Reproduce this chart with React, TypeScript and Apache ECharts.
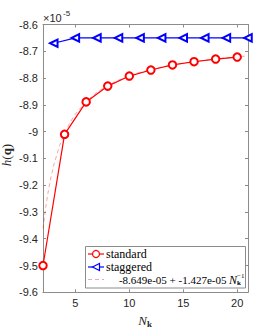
import React, { useEffect, useRef } from "react";
import * as echarts from "echarts";

// values in units of 1e-5
const STD_X = [2, 4, 6, 8, 10, 12, 14, 16, 18, 20];
const STD_Y = [-9.5, -9.01, -8.889, -8.83, -8.7925, -8.77, -8.751, -8.739, -8.729, -8.7215];
const STG_X = [3, 5, 7, 9, 11, 13, 15, 17, 19, 21];
const STG_Y = [-8.67, -8.65, -8.65, -8.65, -8.65, -8.65, -8.65, -8.65, -8.65, -8.65];
const FIT_A = -8.649;
const FIT_B = -1.427;
const FIT_X = [2, 2.25, 2.5, 2.75, 3, 3.5, 4, 4.5, 5, 6, 7, 8, 9, 10, 11, 12, 14, 16, 18, 21];
const X_TICKS = [5, 10, 15, 20];
const X_MIN = 2;
const X_MAX = 21;
const Y_MIN = -9.6;
const Y_MAX = -8.6;
const Y_STEP = 0.1;
const LEGEND_LABELS = ["standard", "staggered", "-8.649e-05 + -1.427e-05"];

const AXIS_COLOR = "#8c8c8c";
const TEXT_COLOR = "#262626";
const SANS = "'Liberation Sans', Arial, sans-serif";
const SERIF = "'Liberation Serif', 'Times New Roman', serif";

export default function App() {
  const ref = useRef<HTMLDivElement>(null);
  useEffect(() => {
    if (!ref.current) return;
    const chart = echarts.init(ref.current, undefined, { renderer: "svg" });
    const fitData = FIT_X.map((x) => [x, FIT_A + FIT_B / x]);
    const r1 = 254, r2 = 267, r3 = 279.5;
    const tickFmt = (v: number) => String(Math.round(v * 10) / 10);
    chart.setOption({
      animation: false,
      grid: { left: 43, right: 26, top: 24.5, bottom: 36.7, containLabel: false, outerBoundsMode: "none" },
      xAxis: [
        {
          type: "value", min: X_MIN, max: X_MAX, position: "bottom",
          axisLine: { show: true, lineStyle: { color: AXIS_COLOR, width: 1 } },
          axisTick: { show: true, inside: true, length: 3, customValues: X_TICKS, lineStyle: { color: AXIS_COLOR } },
          axisLabel: { customValues: X_TICKS, color: TEXT_COLOR, fontFamily: SANS, fontSize: 11, margin: 5 },
          splitLine: { show: false },
        },
        {
          type: "value", min: X_MIN, max: X_MAX, position: "top",
          axisLine: { show: true, onZero: false, lineStyle: { color: AXIS_COLOR, width: 1 } },
          axisTick: { show: true, inside: true, length: 3, customValues: X_TICKS, lineStyle: { color: AXIS_COLOR } },
          axisLabel: { show: false },
          splitLine: { show: false },
        },
      ],
      yAxis: [
        {
          type: "value", min: Y_MIN, max: Y_MAX, interval: Y_STEP, position: "left",
          axisLine: { show: true, onZero: false, lineStyle: { color: AXIS_COLOR, width: 1 } },
          axisTick: { show: true, inside: true, length: 3, lineStyle: { color: AXIS_COLOR } },
          axisLabel: { color: TEXT_COLOR, fontFamily: SANS, fontSize: 11, margin: 5, formatter: tickFmt },
          splitLine: { show: false },
        },
        {
          type: "value", min: Y_MIN, max: Y_MAX, interval: Y_STEP, position: "right",
          axisLine: { show: true, onZero: false, lineStyle: { color: AXIS_COLOR, width: 1 } },
          axisTick: { show: true, inside: true, length: 3, lineStyle: { color: AXIS_COLOR } },
          axisLabel: { show: false },
          splitLine: { show: false },
        },
      ],
      series: [
        {
          type: "line", name: "fit", data: fitData, symbol: "none", smooth: false,
          lineStyle: { color: "rgba(255,0,0,0.45)", width: 0.8, type: [4, 3] }, z: 1,
        },
        {
          type: "line", name: "standard", data: STD_X.map((x, i) => [x, STD_Y[i]]),
          symbol: "emptyCircle", symbolSize: 7.5,
          lineStyle: { color: "#ff0000", width: 1.2 },
          itemStyle: { color: "#ff0000", borderColor: "#ff0000", borderWidth: 1.2 }, z: 3,
        },
        {
          type: "line", name: "staggered", data: STG_X.map((x, i) => [x, STG_Y[i]]),
          symbol: "emptyTriangle", symbolSize: 7.5, symbolRotate: 90,
          lineStyle: { color: "#0000ff", width: 1.2 },
          itemStyle: { color: "#0000ff", borderColor: "#0000ff", borderWidth: 1.2 }, z: 3,
        },
      ],
      graphic: [
        { type: "text", x: 43, y: 17.5, z: 100, style: { text: "×10", fill: TEXT_COLOR, font: `11px ${SANS}`, verticalAlign: "middle", textAlign: "left" } },
        { type: "text", x: 63, y: 13.5, z: 100, style: { text: "-5", fill: TEXT_COLOR, font: `8px ${SANS}`, verticalAlign: "middle", textAlign: "left" } },
        {
          type: "text", x: 6, y: 155, rotation: Math.PI / 2, z: 100,
          style: {
            text: "{i|h}{n|(}{b|q}{n|)}", textAlign: "center", verticalAlign: "middle", fill: TEXT_COLOR,
            rich: {
              i: { fontFamily: SERIF, fontStyle: "italic", fontSize: 13, fill: TEXT_COLOR },
              n: { fontFamily: SERIF, fontSize: 13, fill: TEXT_COLOR },
              b: { fontFamily: SERIF, fontWeight: "bold", fontSize: 13, fill: TEXT_COLOR },
            },
          },
        },
        { type: "text", x: 147, y: 320, z: 100, style: { text: "N", fill: TEXT_COLOR, font: `italic 13px ${SERIF}`, textAlign: "right", verticalAlign: "middle" } },
        { type: "text", x: 147, y: 323.5, z: 100, style: { text: "k", fill: TEXT_COLOR, font: `bold 9px ${SERIF}`, textAlign: "left", verticalAlign: "middle" } },
        // legend
        { type: "rect", z: 100, shape: { x: 85.5, y: 246.5, width: 160, height: 41.5 }, style: { fill: "#ffffff", stroke: AXIS_COLOR, lineWidth: 1 } },
        { type: "line", z: 101, shape: { x1: 88, y1: r1, x2: 104, y2: r1 }, style: { stroke: "#ff0000", lineWidth: 1.2 } },
        { type: "circle", z: 102, shape: { cx: 96, cy: r1, r: 3.5 }, style: { fill: "#ffffff", stroke: "#ff0000", lineWidth: 1.2 } },
        { type: "text", z: 101, x: 106, y: r1, style: { text: LEGEND_LABELS[0], fill: "#000", font: `12px ${SERIF}`, verticalAlign: "middle" } },
        { type: "line", z: 101, shape: { x1: 88, y1: r2, x2: 104, y2: r2 }, style: { stroke: "#0000ff", lineWidth: 1.2 } },
        { type: "polygon", z: 102, shape: { points: [[92.5, r2], [99.5, r2 - 3.6], [99.5, r2 + 3.6]] }, style: { fill: "#ffffff", stroke: "#0000ff", lineWidth: 1.2 } },
        { type: "text", z: 101, x: 106, y: r2, style: { text: LEGEND_LABELS[1], fill: "#000", font: `12px ${SERIF}`, verticalAlign: "middle" } },
        { type: "line", z: 101, shape: { x1: 88, y1: r3, x2: 104, y2: r3 }, style: { stroke: "rgba(255,0,0,0.45)", lineWidth: 0.8, lineDash: [4, 3] } },
        { type: "text", z: 101, x: 226.5, y: r3, style: { text: LEGEND_LABELS[2], fill: "#000", font: `11px ${SERIF}`, verticalAlign: "middle", textAlign: "right" } },
        { type: "text", z: 101, x: 237, y: r3 + 0.5, style: { text: "N", fill: "#000", font: `italic 12px ${SERIF}`, verticalAlign: "middle", textAlign: "right" } },
        { type: "text", z: 101, x: 237, y: r3 - 3.5, style: { text: "−1", fill: "#000", font: `7px ${SERIF}`, verticalAlign: "middle", textAlign: "left" } },
        { type: "text", z: 101, x: 237, y: r3 + 3.5, style: { text: "k", fill: "#000", font: `bold 7px ${SERIF}`, verticalAlign: "middle", textAlign: "left" } },
      ],
    });
    return () => chart.dispose();
  }, []);
  return <div ref={ref} style={{ width: 274, height: 329, position: "absolute", left: 0, top: 0, background: "#fff" }} />;
}
